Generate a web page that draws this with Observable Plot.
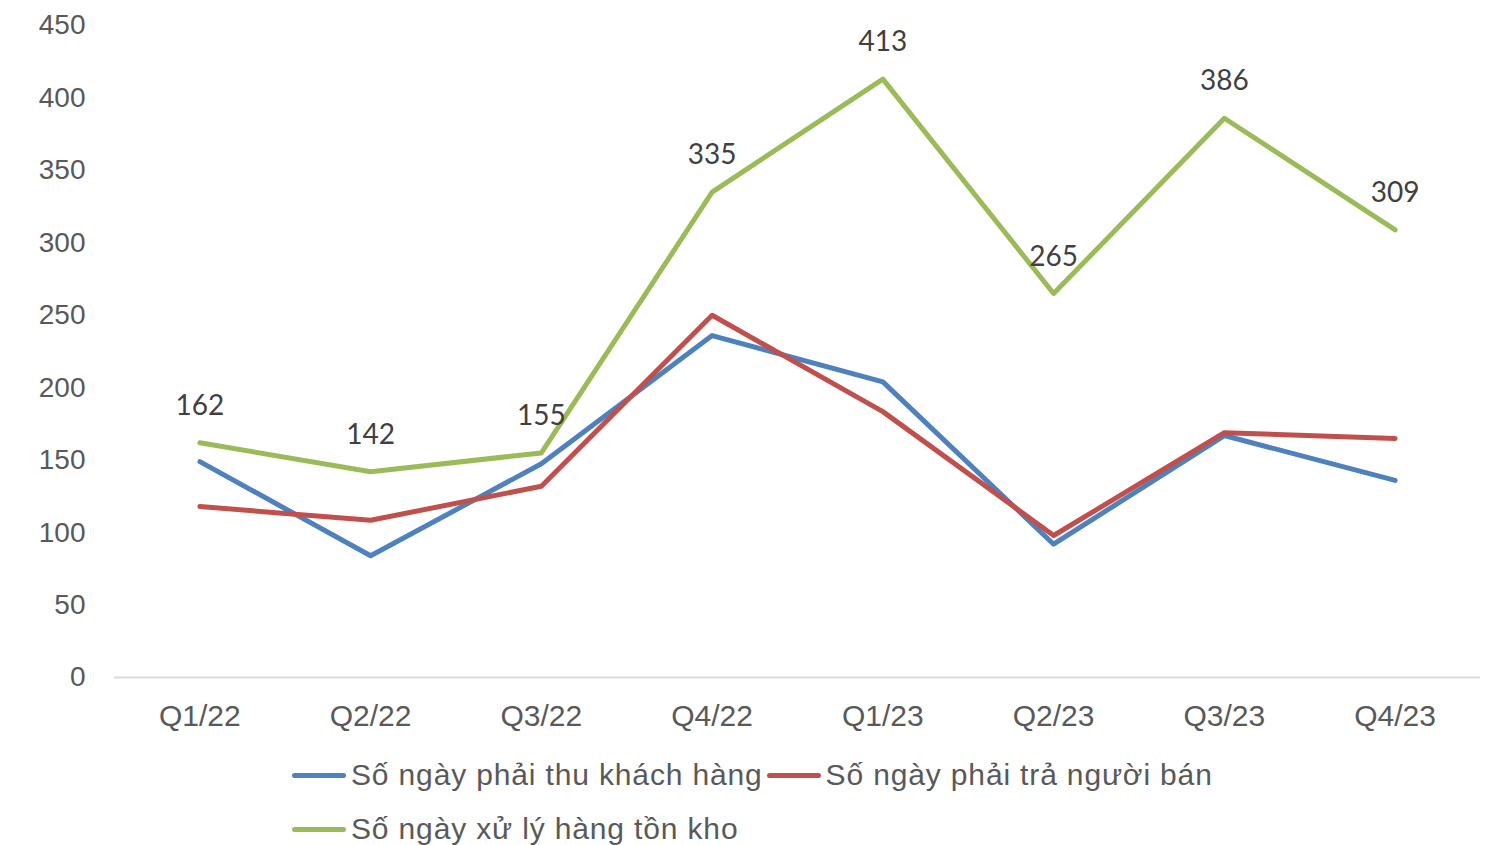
<!DOCTYPE html>
<html>
<head>
<meta charset="utf-8">
<script src="https://cdn.jsdelivr.net/npm/d3@7"></script>
<script src="https://cdn.jsdelivr.net/npm/@observablehq/plot@0.6"></script>
<style>
  html, body { margin: 0; padding: 0; background: #fff; }
  #wrap { position: relative; width: 1491px; height: 845px; overflow: hidden; }
  #legend { position: absolute; left: 290px; top: 748px; width: 960px; display: flex; flex-wrap: wrap;
    font-family: "Liberation Sans", Arial, sans-serif; font-size: 30px; letter-spacing: 0.85px; color: #595959; }
  .item { display: flex; align-items: center; height: 54px; margin-right: 2px; }
  .sw { width: 54px; height: 5px; border-radius: 3px; margin-right: 5px; margin-left: 2px; }
</style>
</head>
<body>
<div id="wrap"><div id="chart"></div><div id="legend"></div></div>
<script>
const quarters = ["Q1/22","Q2/22","Q3/22","Q4/22","Q1/23","Q2/23","Q3/23","Q4/23"];
const seriesNames = ["Số ngày phải thu khách hàng","Số ngày phải trả người bán","Số ngày xử lý hàng tồn kho"];
const seriesColors = ["#4F81BD","#C0504D","#9BBB59"];
const receivableDays = [149, 84, 147.5, 236, 204, 92, 167, 136];
const payableDays = [118, 108.5, 132, 250, 183.5, 98, 169, 165];
const inventoryDays = [162, 142, 155, 335, 413, 265, 386, 309];
const yTicks = [0, 50, 100, 150, 200, 250, 300, 350, 400, 450];

const allValues = [receivableDays, payableDays, inventoryDays];
const data = [];
allValues.forEach((vals, si) => vals.forEach((v, i) => data.push({q: quarters[i], v, s: seriesNames[si]})));
const inv = data.filter(d => d.s === seriesNames[2]);

const chart = Plot.plot({
  width: 1491,
  height: 740,
  marginTop: 25,
  marginBottom: 63,
  marginLeft: 114,
  marginRight: 11,
  style: {fontFamily: "'Liberation Sans', Arial, sans-serif", fontSize: "26px", color: "#595959", background: "#fff"},
  x: {type: "point", domain: quarters, padding: 0.5, round: false, label: null},
  y: {domain: [0, 450], label: null},
  color: {domain: seriesNames, range: seriesColors},
  marks: [
    Plot.axisY({ticks: yTicks, tickSize: 0, tickPadding: 29, label: null, fontSize: 28, fill: "#595959"}),
    Plot.axisX({tickSize: 0, tickPadding: 27, label: null, fontSize: 30, fill: "#595959", style: {letterSpacing: "0.6px"}}),
    Plot.ruleY([0], {stroke: "#d9d9d9", strokeWidth: 2}),
    Plot.line(data, {x: "q", y: "v", z: "s", stroke: "s", strokeWidth: 5, strokeLinecap: "round", strokeLinejoin: "round"}),
    Plot.text(inv, {x: "q", y: "v", text: d => String(d.v), dy: -37, fontSize: 28, fill: "#404040", fontFamily: "Lato, 'Open Sans', sans-serif"})
  ]
});
document.getElementById("chart").appendChild(chart);

const legend = document.getElementById("legend");
seriesNames.forEach((n, i) => {
  const it = document.createElement("div");
  it.className = "item";
  it.innerHTML = `<span class="sw" style="background:${seriesColors[i]}"></span><span>${n}</span>`;
  legend.appendChild(it);
});
</script>
</body>
</html>
